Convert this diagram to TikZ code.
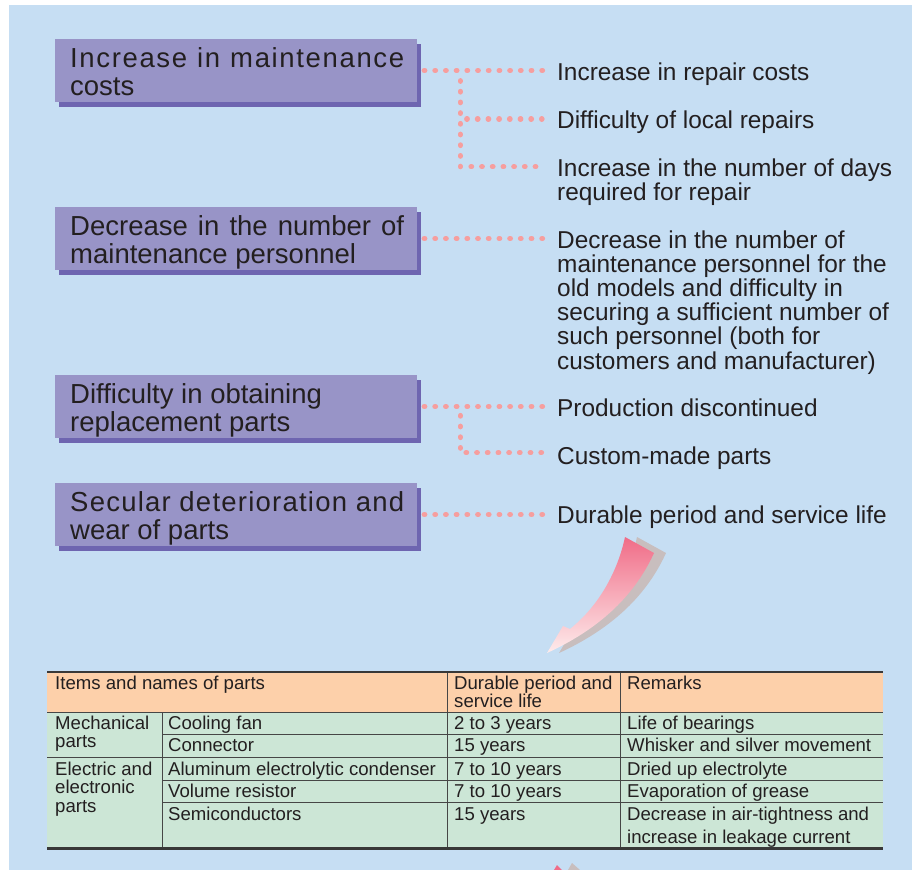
\documentclass[tikz,border=0pt]{standalone}
\usepackage{fontspec}
\setmainfont{Liberation Sans}
\usetikzlibrary{shadows,calc}
\definecolor{bg}{RGB}{198,222,243}
\definecolor{boxc}{RGB}{152,148,199}
\definecolor{boxsh}{RGB}{110,101,176}
\definecolor{dotc}{RGB}{246,158,158}
\definecolor{txt}{RGB}{35,31,32}
\definecolor{hdr}{RGB}{253,208,170}
\definecolor{bodyc}{RGB}{204,230,214}
\definecolor{rulec}{RGB}{70,70,70}
\definecolor{arrA}{RGB}{240,108,135}
\definecolor{arrB}{RGB}{254,236,236}
\definecolor{arrS}{RGB}{200,190,190}
\begin{document}
\begin{tikzpicture}[x=1pt,y=-1pt,
 catbox/.style={fill=boxc, minimum width=362pt, minimum height=63pt, inner sep=0pt,
   drop shadow={shadow xshift=4pt, shadow yshift=-5pt, opacity=1, fill=boxsh}},
 cattext/.style={anchor=base west, inner sep=0pt, text=txt, font=\fontsize{27.5}{28}\selectfont},
 rtext/.style={anchor=base west, inner sep=0pt, text=txt, font=\fontsize{24.4}{24.2}\selectfont},
 ttext/.style={anchor=base west, inner sep=0pt, text=txt, font=\fontsize{18.6}{18.5}\selectfont},
 dotline/.style={draw=dotc, line width=5.2pt, line cap=round, dash pattern=on 0.6pt off 10.1pt},
 thinrule/.style={draw=rulec, line width=0.9pt},
]
\useasboundingbox (0,0) rectangle (913,870);
\fill[white] (0,0) rectangle (913,870);
\fill[bg] (9,5) rectangle (912,870);

% category boxes
\node[catbox] (b1) at (236,70.5) {};
\node[catbox] (b2) at (236,238.5) {};
\node[catbox] (b3) at (236,406.5) {};
\node[catbox] (b4) at (236,514.5) {};

\node[cattext] (b1t) at (70,67) {\vtop{\hbox{\makebox[334pt][s]{\addfontfeature{LetterSpace=6}Increase in maintenance}}\hbox{costs}}};
\node[cattext] (b2t) at (70,235) {\vtop{\hbox{\makebox[334pt][s]{Decrease in the number of}}\hbox{maintenance personnel}}};
\node[cattext] (b3t) at (70,403) {\vtop{\hbox{Difficulty in obtaining}\hbox{replacement parts}}};
\node[cattext] (b4t) at (70,511) {\vtop{\hbox{\makebox[334pt][s]{\addfontfeature{LetterSpace=4.5}Secular deterioration and}}\hbox{wear of parts}}};

% right texts
\node[rtext] (r1) at (557,80) {Increase in repair costs};
\node[rtext] (r2) at (557,128) {Difficulty of local repairs};
\node[rtext] (r3) at (557,176) {\vtop{\hbox{Increase in the number of days}\hbox{required for repair}}};
\node[rtext] (r4) at (557,248) {\vtop{\hbox{Decrease in the number of}\hbox{maintenance personnel for the}\hbox{old models and difficulty in}\hbox{securing a sufficient number of}\hbox{such personnel (both for}\hbox{customers and manufacturer)}}};
\node[rtext] (r5) at (557,416) {Production discontinued};
\node[rtext] (r6) at (557,464) {Custom-made parts};
\node[rtext] (r7) at (557,523) {Durable period and service life};

% dotted connectors
\coordinate (j1a) at (460.3,80.7);
\coordinate (j1b) at (460.3,166.7);
\coordinate (j2) at (466.7,119);
\coordinate (j3) at (471,166.7);
\coordinate (j4a) at (460.3,415.5);
\coordinate (j4b) at (460.3,452.7);
\coordinate (j5) at (466,452.7);

\draw[dotline] ([xshift=7pt]b1.east) -- ($(b1.east -| r1.west)+(-14,0)$);
\draw[dotline] (j1a) -- (j1b);
\draw[dotline] (j2) -- ($(j2 -| r2.west)+(-15,0)$);
\draw[dotline] (j3) -- ($(j3 -| r3.west)+(-21,0)$);
\draw[dotline] ([xshift=7pt]b2.east) -- ($(b2.east -| r4.west)+(-14,0)$);
\draw[dotline] ([xshift=7pt]b3.east) -- ($(b3.east -| r5.west)+(-14,0)$);
\draw[dotline] (j4a) -- (j4b);
\draw[dotline] (j5) -- ($(j5 -| r6.west)+(-15,0)$);
\draw[dotline] ([xshift=7pt]b4.east) -- ($(b4.east -| r7.west)+(-14,0)$);

% curved arrow
\fill[arrS, shift={(12,0)}] (625,537) -- (654,553) .. controls (638,588) and (608,625) .. (547,653)
  -- (563,626) -- (570,629) .. controls (600,605) and (618,570) .. (625,537) -- cycle;
\shade[top color=arrA, bottom color=arrB] (625,537) -- (654,553) .. controls (638,588) and (608,625) .. (547,653)
  -- (563,626) -- (570,629) .. controls (600,605) and (618,570) .. (625,537) -- cycle;

% table
\fill[hdr] (47,672) rectangle (883,712);
\fill[bodyc] (47,712) rectangle (883,848);
\draw[thinrule] (47,712) -- (883,712);
\draw[thinrule] (162.5,734.5) -- (883,734.5);
\draw[thinrule] (47,757.5) -- (883,757.5);
\draw[thinrule] (162.5,780) -- (883,780);
\draw[thinrule] (162.5,802.5) -- (883,802.5);
\draw[thinrule] (162.5,712) -- (162.5,848);
\draw[thinrule] (447,672) -- (447,848);
\draw[thinrule] (620,672) -- (620,848);
\draw[draw=rulec!80!black, line width=1.8pt] (47,672) -- (883,672);
\draw[draw=rulec!80!black, line width=2.2pt] (47,848.5) -- (883,848.5);

\node[ttext] (h1) at (55,689) {Items and names of parts};
\node[ttext] (h2) at (454,689) {\vtop{\hbox{Durable period and}\hbox{service life}}};
\node[ttext] (h3) at (627,689) {Remarks};
\node[ttext] (g1) at (55,729) {\vtop{\hbox{Mechanical}\hbox{parts}}};
\node[ttext] (g2) at (55,775) {\vtop{\hbox{Electric and}\hbox{electronic}\hbox{parts}}};
\node[ttext] (p1) at (168,729) {Cooling fan};
\node[ttext] (p2) at (168,751) {Connector};
\node[ttext] (p3) at (168,775) {Aluminum electrolytic condenser};
\node[ttext] (p4) at (168,797) {Volume resistor};
\node[ttext] (p5) at (168,820) {Semiconductors};
\node[ttext] (d1) at (454,729) {2 to 3 years};
\node[ttext] (d2) at (454,751) {15 years};
\node[ttext] (d3) at (454,775) {7 to 10 years};
\node[ttext] (d4) at (454,797) {7 to 10 years};
\node[ttext] (d5) at (454,820) {15 years};
\node[ttext] (m1) at (627,729) {Life of bearings};
\node[ttext] (m2) at (627,751) {Whisker and silver movement};
\node[ttext] (m3) at (627,775) {Dried up electrolyte};
\node[ttext] (m4) at (627,797) {Evaporation of grease};
\node[ttext, font=\fontsize{18.6}{23}\selectfont] (m5) at (627,820) {\vtop{\hbox{Decrease in air-tightness and}\hbox{increase in leakage current}}};

% tip of the next arrow, cut off at the bottom
\fill[arrS] (568,870) -- (572,863) -- (580,870) -- cycle;
\fill[arrA] (554,870) -- (557,865) -- (562,870) -- cycle;
\end{tikzpicture}
\end{document}
